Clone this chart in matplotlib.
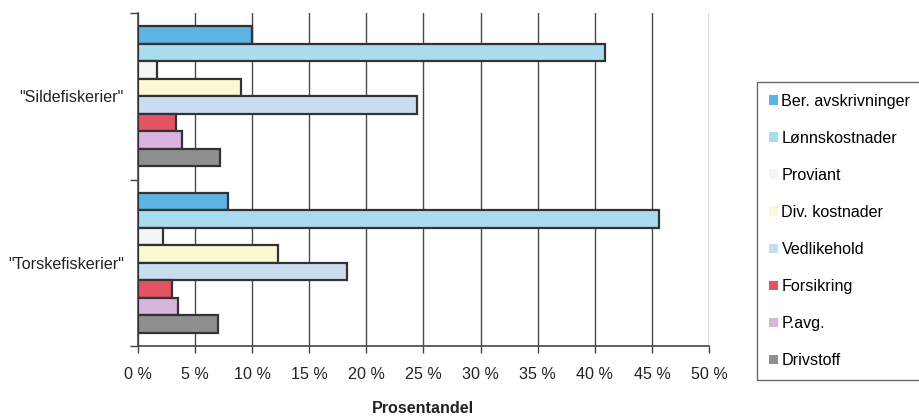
import numpy as np
import matplotlib
matplotlib.use('Agg')
import matplotlib.pyplot as plt
from matplotlib.ticker import FixedLocator

# data
categories = ['"Sildefiskerier"', '"Torskefiskerier"']
series = ['Ber. avskrivninger', 'Lønnskostnader', 'Proviant', 'Div. kostnader',
          'Vedlikehold', 'Forsikring', 'P.avg.', 'Drivstoff']
silde = [10.0, 40.9, 1.7, 9.0, 24.4, 3.3, 3.9, 7.2]
torske = [7.9, 45.6, 2.2, 12.3, 18.3, 3.0, 3.5, 7.0]
colors = ['#5db3e2', '#a9dcef', '#f3f5f7', '#fbf8d2', '#c9ddf1', '#e25463', '#d9b5dd', '#8e8f8f']
xticks = list(range(0, 55, 5))

plt.rcParams['font.family'] = ['Liberation Sans', 'DejaVu Sans']
fs = 11.6

fig = plt.figure(figsize=(9.19, 4.17), dpi=100)
ax = fig.add_axes([0.150, 0.170, 0.6215, 0.799])

n = len(series)
group_h = 0.84
bar_h = group_h / n
values = np.array([silde, torske])
centers = np.arange(len(categories))
for i, name in enumerate(series):
    ypos = centers - group_h / 2 + (i + 0.5) * bar_h
    ax.barh(ypos, values[:, i], height=bar_h, color=colors[i], edgecolor='#333333',
            linewidth=1.6, label=name, zorder=3)

ax.set_xlim(0, 50)
ax.set_ylim(1.5, -0.5)
ax.set_xticks(xticks)
ax.set_xticklabels([f'{t} %' for t in xticks], fontsize=fs)
ax.grid(axis='x', color='#4a4a4a', linewidth=1.0, zorder=0)

# boundary ticks on the y axis, category names between them
ax.yaxis.set_major_locator(FixedLocator([-0.5, 0.5, 1.5]))
ax.yaxis.set_major_formatter(plt.NullFormatter())
ax.set_yticks(centers, minor=True)
ax.set_yticklabels(categories, minor=True, fontsize=fs, color='#222222')
ax.tick_params(axis='y', which='major', length=6, width=1, color='#444444')
ax.tick_params(axis='y', which='minor', length=0, pad=10)
ax.tick_params(axis='x', length=5, width=1, color='#444444', pad=10, labelcolor='#222222')

for s in ['top', 'right']:
    ax.spines[s].set_visible(False)
for s in ['left', 'bottom']:
    ax.spines[s].set_color('#444444')
    ax.spines[s].set_linewidth(1.2)

ax.set_xlabel('Prosentandel', fontsize=fs, fontweight='bold', labelpad=14, color='#222222')

leg = fig.legend(loc='center left', bbox_to_anchor=(0.824, 0.446), fontsize=fs,
                 handlelength=0.55, handleheight=0.55, handletextpad=0.2,
                 labelspacing=1.37, borderpad=0.75, fancybox=False, edgecolor='#444444',
                 borderaxespad=0)
leg.get_frame().set_linewidth(1.0)
for h in leg.legend_handles:
    h.set_edgecolor('none')

fig.savefig('out.png', dpi=100)
